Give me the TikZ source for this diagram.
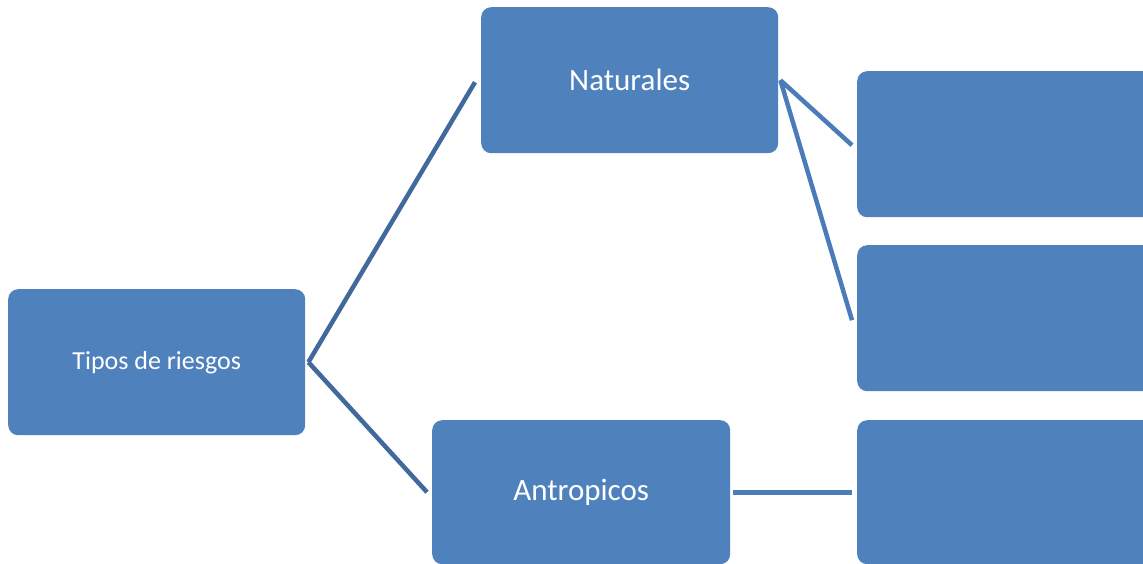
\documentclass[tikz,border=0pt]{standalone}
\usepackage{fontspec}
\setmainfont{Carlito}
\definecolor{boxblue}{HTML}{4F81BD}
\definecolor{lineA}{HTML}{41699C}
\definecolor{lineB}{HTML}{4A7CB9}
\begin{document}
\begin{tikzpicture}[x=1pt,y=-1pt,
  box/.style={fill=boxblue,rounded corners=10pt,text=white,inner sep=0pt,
    minimum width=297pt,minimum height=146pt,anchor=north west},
  sidebox/.style={box,minimum width=310pt},
  linkA/.style={draw=lineA,line width=4.5pt},
  linkB/.style={draw=lineB,line width=4.5pt}]
\useasboundingbox (0,0) rectangle (1143,563);
\clip (0,0) rectangle (1143,563);
\node[box] (t) at (8,289) {\fontsize{26}{30}\selectfont\raisebox{-2pt}{Tipos de riesgos}};
\node[box] (n) at (481,7) {\fontsize{31}{36}\selectfont Naturales};
\node[box,minimum width=298pt,minimum height=144pt] (a) at (432,420) {\fontsize{31}{36}\selectfont\raisebox{-2pt}{Antropicos}};
\node[sidebox] (r1) at (857,71) {};
\node[sidebox] (r2) at (857,245) {};
\node[sidebox,minimum height=144pt] (r3) at (857,420) {};
\draw[linkA] ([xshift=3pt]t.east) -- ([xshift=-6pt,yshift=-2pt]n.west);
\draw[linkA] ([xshift=3pt]t.east) -- ([xshift=-5pt]a.west);
\draw[linkB] ([xshift=2pt]n.east) -- ([xshift=-5pt,yshift=-1pt]r1.west);
\draw[linkB] ([xshift=2pt]n.east) -- ([xshift=-5pt,yshift=-2pt]r2.west);
\draw[linkB,line width=5pt] ([xshift=3pt]a.east) -- ([xshift=-5pt]r3.west);
\end{tikzpicture}
\end{document}
